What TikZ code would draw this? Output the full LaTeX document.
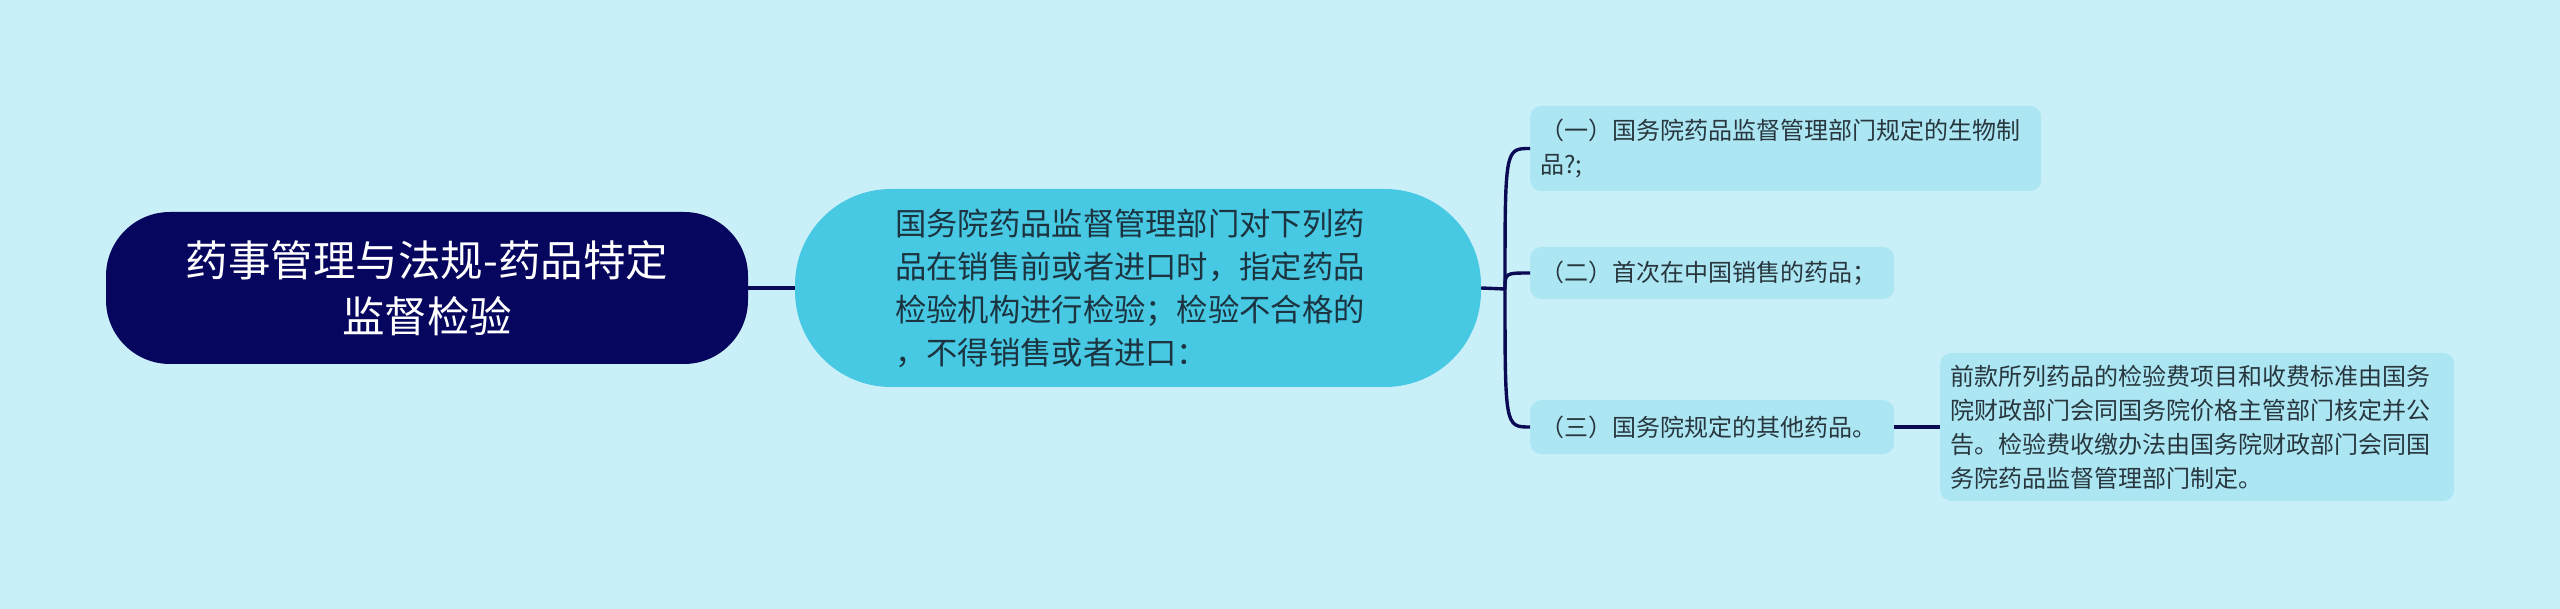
\documentclass[tikz,border=0pt]{standalone}
\usepackage{fontspec}
\setmainfont{Noto Sans CJK SC}
\definecolor{bgc}{HTML}{C9F0F8}
\definecolor{rootc}{HTML}{07065E}
\definecolor{subc}{HTML}{47C9E3}
\definecolor{leafc}{HTML}{ACE6F3}
\definecolor{linec}{HTML}{0A0A55}
\definecolor{subtext}{HTML}{1C3340}
\definecolor{leaftext}{HTML}{28363E}
\begin{document}
\begin{tikzpicture}[x=1pt,y=-1pt,
  rootbox/.style={fill=rootc, text=white, rounded corners=64pt, minimum width=642pt, minimum height=152pt,
    align=center, font=\fontsize{42.5}{56}\selectfont, inner sep=0pt},
  subbox/.style={fill=subc, rounded corners=96pt, minimum width=686pt, minimum height=198pt, inner sep=0pt},
  subtextstyle/.style={text=subtext, align=left, font=\fontsize{31.3}{43}\selectfont, inner sep=0pt},
  leafbox/.style={fill=leafc, text=leaftext, rounded corners=11pt, align=left,
    font=\fontsize{24}{34}\selectfont, inner xsep=10pt, inner ysep=0pt, anchor=west},
  conn/.style={draw=linec, line width=3.4pt}
]
\fill[bgc] (0,0) rectangle (2560,609);
\useasboundingbox (0,0) rectangle (2560,609);

\node[rootbox] (root) at (427,288) {药事管理与法规-药品特定\\监督检验};
\node[subbox] (main) at (1138,288) {};
\node[subtextstyle] (maintext) at (1130,288) {国务院药品监督管理部门对下列药\\品在销售前或者进口时，指定药品\\检验机构进行检验；检验不合格的\\，不得销售或者进口：};

\node[leafbox, minimum width=511pt, minimum height=85pt, text width=491pt] (l1) at (1530,148.5) {（一）国务院药品监督管理部门规定的生物制\\品?;};
\node[leafbox, minimum width=364pt, minimum height=52pt, text width=344pt] (l2) at (1530,273) {（二）首次在中国销售的药品；};
\node[leafbox, minimum width=364pt, minimum height=54pt, text width=344pt] (l3) at (1530,427) {（三）国务院规定的其他药品。};
\node[leafbox, minimum width=514pt, minimum height=148pt, text width=494pt, inner xsep=10pt] (l4) at (1940,427) {前款所列药品的检验费项目和收费标准由国务\\院财政部门会同国务院价格主管部门核定并公\\告。检验费收缴办法由国务院财政部门会同国\\务院药品监督管理部门制定。};

\coordinate (j) at (1505,289);
\draw[conn] (root.east) -- (main.west);
\draw[conn] (main.east) -- (j);
\draw[conn] (j) .. controls (1505,148.5) .. (l1.west);
\draw[conn] (j) .. controls (1505,273) .. (l2.west);
\draw[conn] (j) .. controls (1505,427) .. (l3.west);
\draw[conn] (l3.east) -- (l4.west);
\end{tikzpicture}
\end{document}
